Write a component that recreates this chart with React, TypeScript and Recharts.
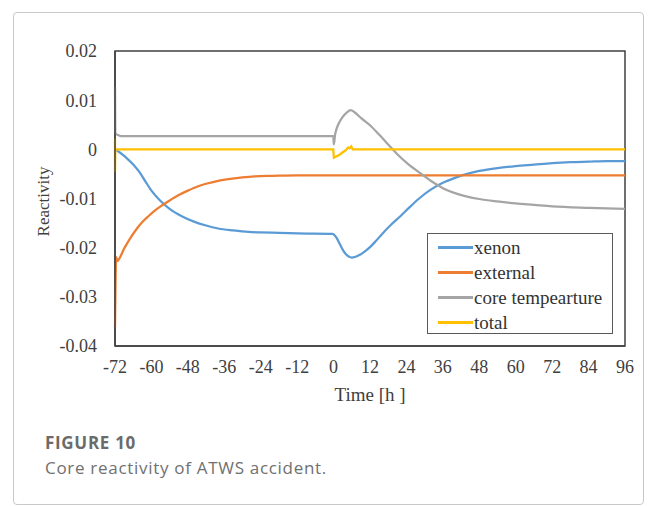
import { LineChart, Line, XAxis, YAxis, ReferenceArea, Legend } from "recharts";

const SERIF = '"Liberation Serif", "Times New Roman", serif';
const SANS = '"Open Sans", "Noto Sans", sans-serif';

const timeTicks = [-72, -60, -48, -36, -24, -12, 0, 12, 24, 36, 48, 60, 72, 84, 96];
const reactivityTicks = [-0.04, -0.03, -0.02, -0.01, 0, 0.01, 0.02];

// [time (h), reactivity]
const xenon: [number, number][] = [
  [-72, 0], [-71, -0.0004], [-69.5, -0.0011], [-68, -0.0019], [-66, -0.0031],
  [-64, -0.0046], [-62, -0.0065], [-60, -0.0084], [-57, -0.0105], [-54, -0.0121],
  [-50, -0.0136], [-46, -0.0147], [-42, -0.0155], [-38, -0.0161], [-33, -0.0165],
  [-28, -0.0168], [-24, -0.0169], [-18, -0.017], [-12, -0.0171], [-0.3, -0.0172],
  [0, -0.0173], [1, -0.018], [2, -0.0192], [3, -0.0204], [4, -0.0213],
  [5, -0.0218], [6, -0.022], [7, -0.0219], [8.5, -0.0215], [10, -0.0209],
  [12, -0.0199], [14, -0.0186], [16, -0.0172], [19, -0.0153], [22, -0.0136],
  [25, -0.0118], [28, -0.0101], [32, -0.0082], [36, -0.0068], [40, -0.0058],
  [44, -0.005], [48, -0.0044], [54, -0.0038], [60, -0.0034], [66, -0.0031],
  [72, -0.0028], [78, -0.0026], [84, -0.0025], [90, -0.0024], [96, -0.0024],
];

const external: [number, number][] = [
  [-72, -0.0362], [-71.6, -0.0219], [-71.2, -0.0227], [-71, -0.0226], [-69, -0.0202],
  [-67, -0.0181], [-65, -0.0163], [-63, -0.0148], [-61, -0.0136], [-59, -0.0125],
  [-57, -0.0116], [-54, -0.0104], [-51, -0.0093], [-48, -0.0084], [-45, -0.0076],
  [-42, -0.007], [-38, -0.0064], [-34, -0.006], [-30, -0.0057], [-26, -0.0055],
  [-20, -0.0054], [-12, -0.0053], [96, -0.0053],
];

const coreTemperature: [number, number][] = [
  [-72, 0.0127], [-71.9, 0.0032], [-71, 0.0029], [-70, 0.0027], [-0.1, 0.0027],
  [0.1, 0.001], [0.5, 0.003], [1, 0.0042], [2, 0.0056], [3, 0.0066],
  [4, 0.0073], [5, 0.0078], [5.6, 0.008], [7, 0.0075], [9, 0.0064],
  [12, 0.0049], [15, 0.003], [18, 0.001], [21, -0.001], [24, -0.0027],
  [28, -0.0046], [32, -0.0064], [36, -0.0079], [40, -0.0089], [44, -0.0096],
  [48, -0.0101], [54, -0.0106], [60, -0.011], [66, -0.0113], [72, -0.0116],
  [84, -0.0119], [96, -0.0121],
];

const total: [number, number][] = [
  [-72, 0.0022], [-72, -0.0046], [-71.9, 0], [-0.1, 0], [0.1, -0.0017],
  [1, -0.0014], [2, -0.0011], [3, -0.0006], [4, -0.0002], [4.8, 0.0004],
  [5.3, 0.0002], [5.8, 0.0006], [6.3, 0], [96, 0],
];

const SERIES = [
  { name: "xenon", color: "#5B9BD5", points: xenon, curve: "monotone" },
  { name: "external", color: "#ED7D31", points: external, curve: "monotone" },
  { name: "core tempearture", color: "#A5A5A5", points: coreTemperature, curve: "monotone" },
  { name: "total", color: "#FFC000", points: total, curve: "linear" },
] as const;

const toRows = (pts: readonly (readonly [number, number])[]) => pts.map(([t, v]) => ({ t, v }));

function LegendBox() {
  return (
    <div
      style={{
        width: 184,
        height: 98,
        border: "1px solid #595959",
        background: "#fff",
        paddingTop: 1,
        boxSizing: "content-box",
      }}
    >
      {SERIES.map((s) => (
        <div key={s.name} style={{ display: "flex", alignItems: "center", height: 25 }}>
          <span style={{ marginLeft: 10, width: 35, height: 2.5, background: s.color, display: "block" }} />
          <span style={{ marginLeft: 1, fontFamily: SERIF, fontSize: 19, color: "#333", lineHeight: "25px" }}>
            {s.name}
          </span>
        </div>
      ))}
    </div>
  );
}

const yTitle = (props: any) => {
  const vb = props.viewBox;
  const cx = vb.x + 43;
  const cy = vb.y + vb.height / 2 + 3;
  return (
    <text
      x={cx}
      y={cy}
      transform={`rotate(-90 ${cx} ${cy})`}
      textAnchor="middle"
      dominantBaseline="central"
      fontFamily={SERIF}
      fontSize={17}
      fill="#404040"
    >
      Reactivity
    </text>
  );
};

const xTitle = (props: any) => {
  const vb = props.viewBox;
  return (
    <text
      x={vb.x + vb.width / 2}
      y={vb.y + 48}
      textAnchor="middle"
      dominantBaseline="central"
      fontFamily={SERIF}
      fontSize={19}
      fill="#404040"
    >
      Time [h ]
    </text>
  );
};

export default function App() {
  return (
    <div style={{ position: "absolute", left: 0, top: 0, width: 656, height: 506, background: "#fff" }}>
      <div
        style={{
          position: "absolute",
          left: 13,
          top: 12,
          width: 629,
          height: 491,
          border: "1px solid #c9c9c9",
          borderRadius: 4,
        }}
      />
      <LineChart
        width={656}
        height={420}
        margin={{ top: 51, right: 31, left: 0, bottom: 0 }}
        style={{ position: "absolute", left: 0, top: 0 }}
      >
        <XAxis
          dataKey="t"
          type="number"
          domain={[-72, 96]}
          ticks={timeTicks}
          interval={0}
          height={74}
          tickSize={0}
          tickMargin={14}
          axisLine={{ stroke: "#404040", strokeWidth: 1.5 }}
          tick={{ fontFamily: SERIF, fontSize: 18, fill: "#404040" }}
          label={xTitle}
        />
        <YAxis
          type="number"
          domain={[-0.04, 0.02]}
          ticks={reactivityTicks}
          interval={0}
          width={115}
          tickSize={0}
          tickMargin={18}
          axisLine={{ stroke: "#404040", strokeWidth: 1.5 }}
          tick={{ fontFamily: SERIF, fontSize: 18, fill: "#404040" }}
          tickFormatter={(v: number) => (v === 0 ? "0" : v.toFixed(2))}
          label={yTitle}
        />
        <ReferenceArea
          x1={-72}
          x2={96}
          y1={-0.04}
          y2={0.02}
          fill="none"
          stroke="#404040"
          strokeWidth={1.5}
          ifOverflow="visible"
        />
        {SERIES.map((s) => (
          <Line
            key={s.name}
            data={toRows(s.points)}
            dataKey="v"
            name={s.name}
            type={s.curve}
            stroke={s.color}
            strokeWidth={2.25}
            dot={false}
            activeDot={false}
            isAnimationActive={false}
          />
        ))}
        <Legend
          layout="vertical"
          align="center"
          verticalAlign="middle"
          wrapperStyle={{ left: 427, top: 233, width: 186, height: 100 }}
          content={() => <LegendBox />}
        />
      </LineChart>
      <div
        style={{
          position: "absolute",
          left: 45,
          top: 430,
          fontFamily: SANS,
          fontSize: 17,
          letterSpacing: 0.7,
          lineHeight: "25px",
          color: "#707070",
        }}
      >
        <div style={{ fontWeight: 700, color: "#6b6b6b" }}>FIGURE 10</div>
        <div>Core reactivity of ATWS accident.</div>
      </div>
    </div>
  );
}
